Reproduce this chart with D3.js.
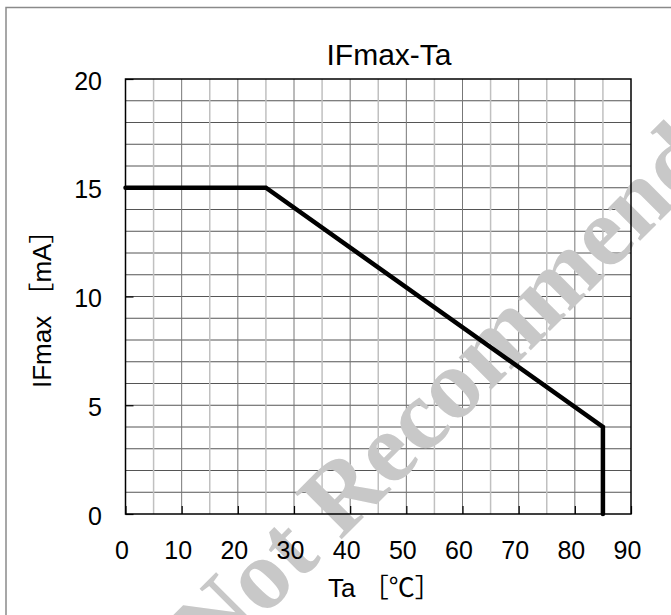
<!DOCTYPE html>
<html>
<head>
    <meta charset="utf-8">
    <title>IFmax-Ta</title>
    <style type="text/css">
    body { margin: 0; background: #fff; }
    svg { display: block; }
    </style>
</head>
<body>

    <script src="https://d3js.org/d3.v7.min.js"></script>
    <script>
      // derating curve
      var temps = [0, 25, 85, 85];
      var ifmax = [15, 15, 4, 0];

      var xTicks = [0, 10, 20, 30, 40, 50, 60, 70, 80, 90];
      var yTicks = [0, 5, 10, 15, 20];
      var xGrid  = [5, 10, 15, 20, 25, 30, 35, 40, 45, 50, 55, 60, 65, 70, 75, 80, 85];
      var yGrid  = [1, 2, 3, 4, 5, 6, 7, 8, 9, 10, 11, 12, 13, 14, 15, 16, 17, 18, 19];

      var W = 671, H = 615;
      var margin = {top: 79, left: 125.5},
          width  = 631 - margin.left,
          height = 514 - margin.top;

      var svg = d3.select("body")
          .append("svg")
          .attr("width", W)
          .attr("height", H);

      // outer frame (runs off the right and bottom edge)
      svg.append("path")
          .attr("d", "M6,640 L6,7.5 L700,7.5")
          .attr("fill", "none")
          .attr("stroke", "#8a8a8a")
          .attr("stroke-width", 1.5);

      var xScale = d3.scaleLinear().domain([0, 90]).range([0, width]);
      var yScale = d3.scaleLinear().domain([0, 20]).range([height, 0]);

      // grid goes underneath the watermark
      var grid = svg.append("g")
          .attr("transform", "translate(" + margin.left + "," + margin.top + ")");

      grid.selectAll(".hgrid")
          .data(yGrid)
          .enter()
          .append("line")
          .attr("class", "hgrid")
          .attr("x1", 0).attr("x2", width)
          .attr("y1", function(d){ return yScale(d); })
          .attr("y2", function(d){ return yScale(d); })
          .attr("stroke", "#555")
          .attr("stroke-width", 1);

      grid.selectAll(".vgrid")
          .data(xGrid)
          .enter()
          .append("line")
          .attr("class", "vgrid")
          .attr("y1", 0).attr("y2", height)
          .attr("x1", function(d){ return xScale(d); })
          .attr("x2", function(d){ return xScale(d); })
          .attr("stroke", function(d){ return d % 10 === 0 ? "#777" : "#c0c0c0"; })
          .attr("stroke-width", function(d){ return d % 10 === 0 ? 1 : 1.5; });

      // watermark
      svg.append("text")
          .attr("transform", "translate(500,381) rotate(-45)")
          .attr("text-anchor", "middle")
          .attr("font-family", "'Liberation Serif', 'Times New Roman', serif")
          .attr("font-weight", "bold")
          .attr("font-size", "100px")
          .attr("fill", "#c8c8c8")
          .text("Not Recommended");

      var chart = svg.append("g")
          .attr("transform", "translate(" + margin.left + "," + margin.top + ")");

      // plot border
      chart.append("rect")
          .attr("width", width)
          .attr("height", height)
          .attr("fill", "none")
          .attr("stroke", "#000")
          .attr("stroke-width", 1.5);

      // axes, ticks inside
      var xAxis = chart.append("g")
          .attr("transform", "translate(0," + height + ")")
          .call(d3.axisBottom(xScale).tickValues(xTicks).tickSize(-8).tickPadding(27));

      var yAxis = chart.append("g")
          .call(d3.axisLeft(yScale).tickValues(yTicks).tickSize(-8).tickPadding(23.5));

      [xAxis, yAxis].forEach(function(ax){
          ax.select(".domain").remove();
          ax.selectAll("line").attr("stroke", "#000").attr("stroke-width", 1.2);
          ax.selectAll("text")
              .attr("font-family", "'Liberation Sans', Arial, sans-serif")
              .attr("font-size", "25px")
              .attr("fill", "#000");
      });
      xAxis.selectAll("text").attr("dx", -4);
      yAxis.selectAll("text").attr("dy", "0.4em");

      // data line
      var pts = temps.map(function(t, i){ return [t, ifmax[i]]; });
      chart.append("path")
          .datum(pts)
          .attr("d", d3.line()
              .x(function(d){ return xScale(d[0]); })
              .y(function(d){ return yScale(d[1]); }))
          .attr("fill", "none")
          .attr("stroke", "#000")
          .attr("stroke-width", 4.5)
          .attr("stroke-linecap", "round");

      // titles
      svg.append("text")
          .attr("x", 389)
          .attr("y", 65)
          .attr("text-anchor", "middle")
          .attr("font-family", "'Liberation Sans', Arial, sans-serif")
          .attr("font-size", "30px")
          .text("IFmax-Ta");

      svg.append("text")
          .attr("x", 328)
          .attr("y", 597)
          .attr("font-family", "'Liberation Sans', 'Noto Sans CJK JP', sans-serif")
          .attr("font-size", "26px")
          .text("Ta ［℃］");

      svg.append("text")
          .attr("transform", "translate(50.5,388) rotate(-90)")
          .attr("font-family", "'Liberation Sans', 'Noto Sans CJK JP', sans-serif")
          .attr("font-size", "26px")
          .text("IFmax ［mA］");
    </script>
</body>
</html>
